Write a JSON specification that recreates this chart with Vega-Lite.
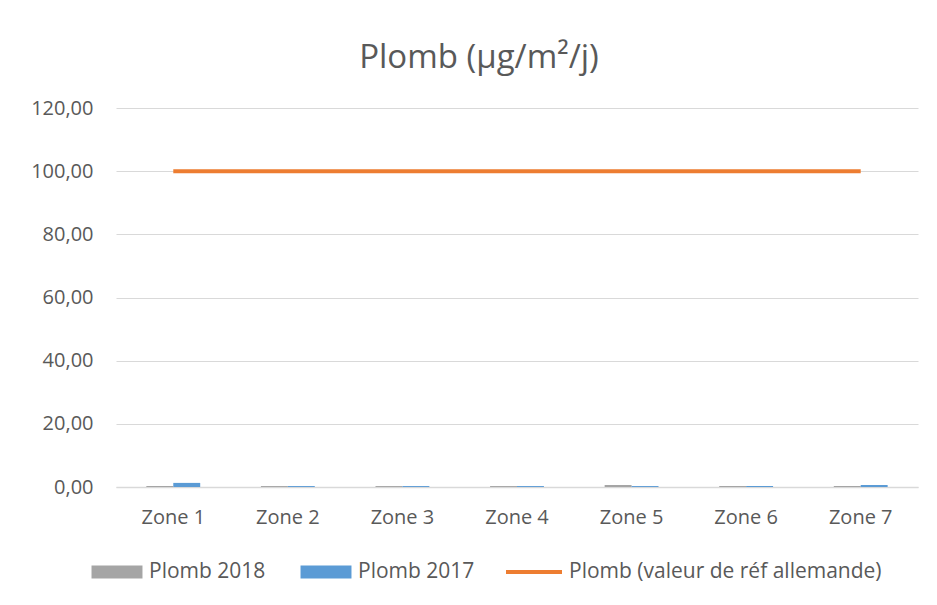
{
  "$schema": "https://vega.github.io/schema/vega-lite/v6.json",
  "width": 802,
  "height": 379,
  "autosize": {"type": "none"},
  "padding": {"left": 116, "top": 108, "right": 19, "bottom": 118},
  "background": "white",
  "title": {
    "text": "Plomb (µg/m²/j)",
    "font": "Open Sans",
    "fontSize": 33,
    "fontWeight": "normal",
    "color": "#595959",
    "anchor": "middle",
    "dx": -38,
    "offset": 23
  },
  "datasets": {
    "bars": [
      {"zone": "Zone 1", "serie": "Plomb 2018", "valeur": 0.3},
      {"zone": "Zone 1", "serie": "Plomb 2017", "valeur": 1.3},
      {"zone": "Zone 2", "serie": "Plomb 2018", "valeur": 0.3},
      {"zone": "Zone 2", "serie": "Plomb 2017", "valeur": 0.3},
      {"zone": "Zone 3", "serie": "Plomb 2018", "valeur": 0.3},
      {"zone": "Zone 3", "serie": "Plomb 2017", "valeur": 0.3},
      {"zone": "Zone 4", "serie": "Plomb 2018", "valeur": 0.3},
      {"zone": "Zone 4", "serie": "Plomb 2017", "valeur": 0.3},
      {"zone": "Zone 5", "serie": "Plomb 2018", "valeur": 0.6},
      {"zone": "Zone 5", "serie": "Plomb 2017", "valeur": 0.3},
      {"zone": "Zone 6", "serie": "Plomb 2018", "valeur": 0.3},
      {"zone": "Zone 6", "serie": "Plomb 2017", "valeur": 0.3},
      {"zone": "Zone 7", "serie": "Plomb 2018", "valeur": 0.3},
      {"zone": "Zone 7", "serie": "Plomb 2017", "valeur": 0.6}
    ],
    "ref": [
      {"zone": "Zone 1", "valeur": 100},
      {"zone": "Zone 2", "valeur": 100},
      {"zone": "Zone 3", "valeur": 100},
      {"zone": "Zone 4", "valeur": 100},
      {"zone": "Zone 5", "valeur": 100},
      {"zone": "Zone 6", "valeur": 100},
      {"zone": "Zone 7", "valeur": 100}
    ]
  },
  "encoding": {
    "x": {
      "field": "zone",
      "type": "nominal",
      "sort": null,
      "scale": {"paddingInner": 0.53, "paddingOuter": 0.265},
      "axis": {
        "title": null,
        "labelAngle": 0,
        "ticks": false,
        "domainColor": "#d9d9d9",
        "domainWidth": 1.5,
        "labelFont": "Open Sans",
        "labelFontSize": 20,
        "labelColor": "#595959",
        "labelPadding": 20
      }
    },
    "y": {
      "field": "valeur",
      "type": "quantitative",
      "scale": {"domain": [0, 120]},
      "axis": {
        "title": null,
        "values": [0, 20, 40, 60, 80, 100, 120],
        "domain": false,
        "ticks": false,
        "gridColor": "#d9d9d9",
        "gridWidth": 1,
        "labelFont": "Open Sans",
        "labelFontSize": 20,
        "labelColor": "#595959",
        "labelPadding": 23,
        "labelExpr": "replace(format(datum.value, '.2f'), '.', ',')"
      }
    }
  },
  "layer": [
    {
      "data": {"name": "bars"},
      "mark": {"type": "bar"},
      "encoding": {
        "xOffset": {"field": "serie", "type": "nominal", "sort": ["Plomb 2018", "Plomb 2017"], "scale": {"paddingInner": 0}},
        "color": {
          "field": "serie",
          "type": "nominal",
          "scale": {"domain": ["Plomb 2018", "Plomb 2017"], "range": ["#a5a5a5", "#5b9bd5"]},
          "legend": {
            "title": null,
            "orient": "none",
            "legendX": -27,
            "legendY": 436,
            "direction": "horizontal",
            "symbolType": "M-0.91,-0.23H0.91V0.23H-0.91Z",
            "symbolSize": 3136,
            "symbolStrokeWidth": 0,
            "symbolOpacity": 1,
            "labelFont": "Open Sans",
            "labelFontSize": 21,
            "labelColor": "#595959",
            "labelLimit": 400,
            "labelOffset": 4,
            "columnPadding": 32
          }
        }
      }
    },
    {
      "data": {"name": "ref"},
      "mark": {"type": "line", "strokeWidth": 4},
      "encoding": {
        "stroke": {
          "datum": "Plomb (valeur de réf allemande)",
          "type": "nominal",
          "scale": {"range": ["#ed7d31"]},
          "legend": {
            "title": null,
            "orient": "none",
            "legendX": 388,
            "legendY": 434,
            "direction": "horizontal",
            "symbolType": "stroke",
            "symbolSize": 3136,
            "symbolStrokeWidth": 4,
            "labelFont": "Open Sans",
            "labelFontSize": 21,
            "labelColor": "#595959",
            "labelLimit": 400,
            "labelOffset": 5
          }
        }
      }
    }
  ],
  "config": {
    "view": {"stroke": null}
  }
}
